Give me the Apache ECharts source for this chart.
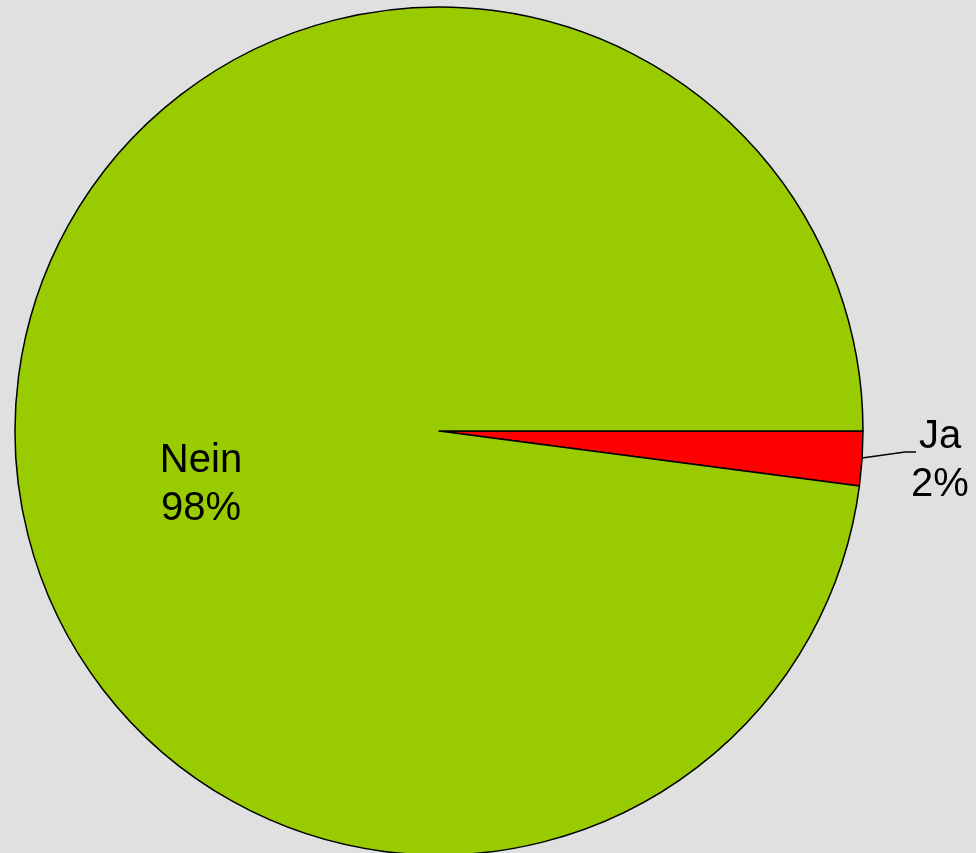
<!DOCTYPE html>
<html>
<head>
<meta charset="utf-8">
<script src="https://cdn.jsdelivr.net/npm/echarts@6/dist/echarts.min.js"></script>
<style>
  html, body { margin: 0; padding: 0; background: #e0e0e0; }
  #chart { width: 976px; height: 853px; }
</style>
</head>
<body>
<div id="chart"></div>
<script>
const categories = ['Ja', 'Nein'];
const counts = [3, 142];
const colors = ['#ff0000', '#99cc00'];

const chart = echarts.init(document.getElementById('chart'));
chart.setOption({
    backgroundColor: '#e0e0e0',
    animation: false,
    series: [{
        type: 'pie',
        center: [439, 431],
        radius: 424,
        startAngle: 0,
        clockwise: true,
        percentPrecision: 0,
        itemStyle: { borderColor: '#000', borderWidth: 1.5 },
        label: {
            formatter: '{b}\n{d}%',
            fontFamily: 'Liberation Sans, Arial, sans-serif',
            fontSize: 40,
            lineHeight: 48,
            color: '#000',
            overflow: 'none'
        },
        labelLine: { length: 40, length2: 12, lineStyle: { color: '#000', width: 1.5 } },
        labelLayout: function (p) {
            if (p.dataIndex === 1) {
                return { x: 201, y: 485, align: 'center', verticalAlign: 'middle' };
            }
            // outside label for the small slice, line bends up to the text
            return {
                x: 940, y: 461, align: 'center', verticalAlign: 'middle',
                labelLinePoints: [[862, 458], [905, 452], [916, 452]]
            };
        },
        data: categories.map((c, i) => ({
            name: c,
            value: counts[i],
            itemStyle: { color: colors[i] },
            label: { position: i === 1 ? 'inside' : 'outside' },
            labelLine: { show: i === 0 }
        }))
    }]
});
</script>
</body>
</html>
